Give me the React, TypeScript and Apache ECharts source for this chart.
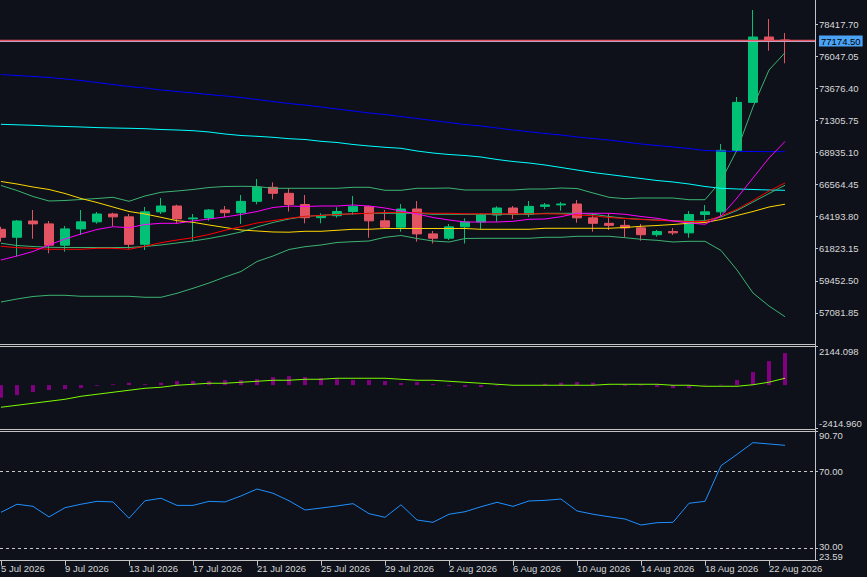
import React, { useEffect, useRef } from 'react';
import * as echarts from 'echarts';

const dates = [
  '5 Jul 2026', '6 Jul 2026', '7 Jul 2026', '8 Jul 2026', '9 Jul 2026', '10 Jul 2026', '11 Jul 2026', '12 Jul 2026', '13 Jul 2026', '14 Jul 2026',
  '15 Jul 2026', '16 Jul 2026', '17 Jul 2026', '18 Jul 2026', '19 Jul 2026', '20 Jul 2026', '21 Jul 2026', '22 Jul 2026', '23 Jul 2026', '24 Jul 2026',
  '25 Jul 2026', '26 Jul 2026', '27 Jul 2026', '28 Jul 2026', '29 Jul 2026', '30 Jul 2026', '31 Jul 2026', '1 Aug 2026', '2 Aug 2026', '3 Aug 2026',
  '4 Aug 2026', '5 Aug 2026', '6 Aug 2026', '7 Aug 2026', '8 Aug 2026', '9 Aug 2026', '10 Aug 2026', '11 Aug 2026', '12 Aug 2026', '13 Aug 2026',
  '14 Aug 2026', '15 Aug 2026', '16 Aug 2026', '17 Aug 2026', '18 Aug 2026', '19 Aug 2026', '20 Aug 2026', '21 Aug 2026', '22 Aug 2026', '23 Aug 2026',
];

const opens = [
  63260, 62670, 63873, 63660, 62085, 63290, 63810, 64391, 64180, 62150,
  64550, 64982, 64030, 64100, 64687, 64487, 65325, 66365, 65920, 65090,
  64117, 64265, 64575, 64935, 63885, 63415, 64760, 62920, 62600, 63440,
  63800, 64315, 64834, 64380, 64955, 65065, 65130, 64105, 63700, 63550,
  63365, 62860, 63095, 62995, 64355, 64550, 69095, 72645, 77478, 77260,
];
const closes = [
  62670, 63873, 63660, 62085, 63290, 63810, 64391, 64180, 62150, 64550,
  64982, 64030, 64100, 64687, 64487, 65325, 66365, 65920, 65090, 64117,
  64265, 64575, 64935, 63885, 63415, 64760, 62920, 62600, 63440, 63800,
  64315, 64834, 64380, 64955, 65065, 65130, 64105, 63700, 63550, 63365,
  62860, 63095, 62995, 64355, 64550, 69095, 72645, 77478, 77260, 77174.5,
];
const highs = [
  63452, 63947, 64687, 63873, 63504, 64687, 64539, 64487, 64391, 64908,
  65574, 65078, 64391, 64760, 64982, 65796, 66979, 66735, 66291, 65796,
  64443, 64886, 65722, 65000, 64687, 65130, 65352, 63134, 63651, 64073,
  64428, 64960, 64982, 65352, 65204, 65278, 65426, 64443, 64391, 63947,
  63651, 63208, 63356, 64613, 65056, 69567, 73042, 79475, 78809, 77774,
];
const lows = [
  62343, 61260, 62565, 61485, 61603, 62838, 63674, 63504, 61825, 61729,
  64391, 63703, 62417, 63896, 64162, 63651, 65108, 65478, 64576, 63703,
  63703, 64117, 64339, 62638, 63274, 63082, 62343, 62210, 62468, 62210,
  63274, 63822, 64021, 64162, 64761, 64635, 63747, 63082, 63208, 62690,
  62417, 62712, 62838, 62638, 63947, 64243, 69050, 72598, 76465, 75534,
];

const maBlue = [
  74705, 74631, 74558, 74484, 74373, 74262, 74114, 73966, 73818, 73707,
  73559, 73449, 73338, 73227, 73116, 73005, 72857, 72709, 72561, 72450,
  72302, 72155, 72007, 71859, 71748, 71600, 71452, 71304, 71156, 71008,
  70898, 70750, 70602, 70476, 70343, 70232, 70084, 69973, 69862, 69714,
  69567, 69456, 69345, 69234, 69086, 69040, 69020, 69010, 69000, 69000,
];
const maCyan = [
  71023, 70986, 70949, 70898, 70861, 70824, 70779, 70750, 70728, 70698,
  70639, 70602, 70550, 70454, 70306, 70195, 70136, 70062, 69959, 69900,
  69766, 69678, 69530, 69419, 69323, 69249, 69049, 68901, 68790, 68716,
  68605, 68421, 68273, 68162, 68014, 67829, 67644, 67459, 67311, 67164,
  67016, 66868, 66757, 66609, 66424, 66291, 66240, 66203, 66165, 66143,
];
const bbUpper = [
  66498, 66129, 65685, 65352, 65389, 65463, 65537, 65626, 65330, 65722,
  65996, 66092, 66203, 66351, 66424, 66439, 66424, 66291, 66291, 66291,
  66291, 66291, 66365, 66365, 66143, 66143, 66291, 66291, 66313, 66165,
  66165, 66165, 66165, 66239, 66239, 66313, 66276, 65944, 65626, 65522,
  65574, 65574, 65574, 65448, 65448, 66831, 69123, 72302, 75038, 76317,
];
const bbMiddle = [
  62224, 62061, 61988, 61929, 61914, 61914, 61914, 61914, 61914, 61990,
  62099, 62247, 62394, 62579, 62801, 63060, 63430, 63762, 64021, 64206,
  64295, 64354, 64406, 64443, 64443, 64443, 64443, 64369, 64369, 64369,
  64369, 64369, 64369, 64369, 64443, 64443, 64443, 64369, 64206, 64073,
  63999, 63947, 63896, 63851, 63896, 64169, 64650, 65278, 65907, 66513,
];
const bbLower = [
  57884, 58106, 58291, 58380, 58380, 58306, 58306, 58306, 58306, 58232,
  58232, 58528, 58897, 59289, 59733, 60140, 60879, 61285, 61766, 61973,
  62099, 62284, 62343, 62394, 62668, 62801, 62579, 62394, 62320, 62579,
  62594, 62594, 62594, 62594, 62668, 62668, 62742, 62742, 62742, 62638,
  62520, 62446, 62320, 62372, 62372, 61692, 60250, 58549, 57588, 56797,
];
const maRed = [
  62003, 61899, 61855, 61781, 61781, 61781, 61855, 61855, 61781, 62003,
  62269, 62468, 62638, 62875, 63186, 63452, 63725, 63896, 64073, 64221,
  64280, 64354, 64406, 64443, 64502, 64517, 64480, 64443, 64443, 64406,
  64406, 64406, 64406, 64406, 64406, 64391, 64317, 64258, 64132, 64058,
  63984, 63925, 63874, 63836, 63836, 64243, 64738, 65389, 66092, 66683,
];
const maMagenta = [
  60990, 61285, 61618, 62099, 62542, 62912, 63245, 63452, 63378, 63614,
  63703, 63703, 63873, 64021, 64169, 64354, 64576, 64872, 64982, 64945,
  64982, 64982, 65056, 64982, 64834, 64613, 64391, 64132, 63947, 63799,
  63799, 63799, 63851, 63999, 64021, 64191, 64443, 64443, 64443, 64369,
  64206, 64073, 63873, 63725, 63629, 64243, 65574, 67053, 68531, 69752,
];
const maYellow = [
  66794, 66609, 66387, 66203, 65906, 65537, 65241, 64908, 64576, 64391,
  64147, 63896, 63777, 63578, 63393, 63208, 63134, 63060, 63045, 63112,
  63112, 63186, 63260, 63260, 63319, 63319, 63319, 63319, 63319, 63319,
  63260, 63260, 63260, 63260, 63334, 63334, 63334, 63334, 63334, 63393,
  63482, 63541, 63615, 63703, 63762, 63984, 64280, 64576, 64908, 65115,
];

const macdHist = [
  -705, -556, -389, -278, -222, -167, -45, 45, 130, 50,
  130, 222, 222, 222, 278, 278, 333, 445, 500, 445,
  389, 333, 278, 278, 222, 111, 167, 56, -56, -111,
  -111, -37, -10, 5, 74, 130, 167, 130, 10, -56,
  -37, -111, -167, -167, 25, 30, 278, 723, 1334, 1780,
];
const macdSignal = [
  -1234, -1123, -1012, -901, -790, -623, -512, -400, -289, -178,
  -122, -11, 44, 100, 100, 156, 211, 267, 267, 322,
  322, 378, 378, 378, 378, 322, 267, 267, 211, 156,
  100, 44, -11, -11, -11, -11, -11, -11, 44, 44,
  44, 44, -11, -11, -67, -67, -67, 17, 160, 380,
];
const rsiValues = [
  48.7, 52.9, 51.8, 46.3, 51.1, 52.9, 54.4, 54.1, 45.6, 54.7,
  56.0, 52.3, 52.3, 54.4, 54.1, 57.2, 60.8, 58.6, 54.7, 49.9,
  50.9, 52.0, 53.2, 48.0, 46.1, 52.6, 44.7, 43.5, 47.7, 49.0,
  51.6, 53.9, 51.8, 54.6, 54.9, 55.6, 49.4, 47.7, 46.4, 45.2,
  42.1, 43.3, 43.5, 53.4, 54.4, 72.9, 78.8, 84.9, 84.2, 83.5,
];

const xTickLabels = [
  '5 Jul 2026', '9 Jul 2026', '13 Jul 2026', '17 Jul 2026', '21 Jul 2026', '25 Jul 2026', '29 Jul 2026',
  '2 Aug 2026', '6 Aug 2026', '10 Aug 2026', '14 Aug 2026', '18 Aug 2026', '22 Aug 2026',
];
const priceTicks = [57081.85, 59452.5, 61823.15, 64193.8, 66564.45, 68935.1, 71305.75, 73676.4, 76047.05, 78417.7];
const priceRange = [54778, 80214.5];
const lastPrice = 77174.5;
const askPrice = 77245;
const macdTicks = [-2414.96, 2144.098];
const rsiTicks = [23.59, 30.0, 70.0, 90.7];
const rsiAxisLabels = [23.59, 70.0, 90.7];
const rsiUpperLevel = 70;
const rsiLowerLevel = 30;

const FONT = 'Liberation Sans, Arial, sans-serif';
const TEXT = '#d8d8d8';
const GRAY = '#c4c4c4';
const GREEN = '#00c176';
const RED = '#e35462';

export default function App() {
  const ref = useRef<HTMLDivElement>(null);

  useEffect(() => {
    document.body.style.margin = '0';
    const chart = echarts.init(ref.current as HTMLDivElement, undefined, { renderer: 'svg' });

    const candleData = dates.map((_, i) => [i, opens[i], closes[i], lows[i], highs[i]]);
    const pair = (arr: number[]) => arr.map((v, i) => [i, v]);
    const tickIdx = xTickLabels.map((l) => dates.indexOf(l));

    const labelFont = { fontFamily: FONT, fontSize: 9.5, color: TEXT };
    const xBase = { type: 'value', min: -0.0625, max: 50.875, splitLine: { show: false } };
    const hiddenX = (g: number) => ({
      ...xBase,
      gridIndex: g,
      axisLine: { show: false, onZero: false },
      axisTick: { show: false },
      axisLabel: { show: false },
    });
    const yLabelCommon = {
      margin: 4,
      hideOverlap: false,
      showMinLabel: true,
      showMaxLabel: true,
      ...labelFont,
    };
    const yBase = (g: number, min: number, max: number) => ({
      type: 'value',
      gridIndex: g,
      position: 'right',
      min,
      max,
      splitLine: { show: false },
      axisLine: { show: false, onZero: false },
    });

    const mainLine = (name: string, data: number[], color: string) => ({
      name,
      type: 'line',
      xAxisIndex: 0,
      yAxisIndex: 0,
      data: pair(data),
      symbol: 'none',
      silent: true,
      lineStyle: { color, width: 1 },
      itemStyle: { color },
    });

    const option: any = {
      animation: false,
      backgroundColor: '#0e111a',
      grid: [
        { left: 0, top: 0, width: 815, height: 344, outerBoundsMode: 'none' },
        { left: 0, top: 346.5, width: 815, height: 82, outerBoundsMode: 'none' },
        { left: 0, top: 431.45, width: 815, height: 129.2, outerBoundsMode: 'none' },
      ],
      xAxis: [
        hiddenX(0),
        hiddenX(1),
        {
          ...xBase,
          gridIndex: 2,
          axisLine: { show: true, onZero: false, lineStyle: { color: GRAY, width: 1 } },
          axisTick: { show: true, customValues: tickIdx, length: 5, lineStyle: { color: GRAY } },
          axisLabel: {
            show: true,
            customValues: tickIdx,
            formatter: (v: number) => dates[Math.round(v)] || '',
            align: 'left',
            margin: 3,
            hideOverlap: false,
            ...labelFont,
          },
        },
      ],
      yAxis: [
        {
          ...yBase(0, priceRange[0], priceRange[1]),
          axisTick: { show: true, customValues: priceTicks, length: 3, lineStyle: { color: GRAY } },
          axisLabel: {
            ...yLabelCommon,
            customValues: [...priceTicks, lastPrice],
            formatter: (v: number) =>
              Math.abs(v - lastPrice) < 0.01 ? `{tag|${v.toFixed(2)}}` : v.toFixed(2),
            rich: {
              tag: {
                backgroundColor: '#4aa3f5',
                color: '#000000',
                fontFamily: FONT,
                fontSize: 9.5,
                padding: [1, 2, 0, 2],
              },
            },
          },
        },
        {
          ...yBase(1, macdTicks[0], macdTicks[1]),
          axisTick: { show: true, customValues: macdTicks, length: 3, lineStyle: { color: GRAY } },
          axisLabel: {
            ...yLabelCommon,
            customValues: macdTicks,
            verticalAlignMinLabel: 'bottom',
            verticalAlignMaxLabel: 'top',
            formatter: (v: number) => v.toFixed(3),
          },
        },
        {
          ...yBase(2, rsiTicks[0], rsiTicks[rsiTicks.length - 1]),
          axisTick: { show: true, customValues: rsiTicks, length: 3, lineStyle: { color: GRAY } },
          axisLabel: {
            ...yLabelCommon,
            lineHeight: 8,
            customValues: rsiAxisLabels,
            verticalAlignMinLabel: 'bottom',
            verticalAlignMaxLabel: 'top',
            formatter: (v: number) => v.toFixed(2),
          },
        },
      ],
      graphic: [
        { type: 'line', silent: true, shape: { x1: 0, y1: 344.5, x2: 815.5, y2: 344.5 }, style: { stroke: GRAY, lineWidth: 1 } },
        { type: 'line', silent: true, shape: { x1: 0, y1: 346.5, x2: 815.5, y2: 346.5 }, style: { stroke: GRAY, lineWidth: 1 } },
        { type: 'line', silent: true, shape: { x1: 0, y1: 429.5, x2: 815.5, y2: 429.5 }, style: { stroke: GRAY, lineWidth: 1 } },
        { type: 'line', silent: true, shape: { x1: 0, y1: 431.5, x2: 815.5, y2: 431.5 }, style: { stroke: GRAY, lineWidth: 1 } },
        { type: 'line', silent: true, shape: { x1: 815.5, y1: 0, x2: 815.5, y2: 561 }, style: { stroke: GRAY, lineWidth: 1 } },
      ],
      series: [
        {
          name: 'Price',
          type: 'candlestick',
          xAxisIndex: 0,
          yAxisIndex: 0,
          data: candleData,
          barWidth: 10,
          silent: true,
          itemStyle: {
            color: GREEN,
            color0: RED,
            borderColor: GREEN,
            borderColor0: RED,
            borderWidth: 1,
          },
          markLine: {
            silent: true,
            symbol: 'none',
            animation: false,
            label: { show: false },
            data: [
              { yAxis: lastPrice, lineStyle: { color: '#a8c0e0', width: 1, type: 'solid' } },
              { yAxis: askPrice, lineStyle: { color: '#e8505f', width: 1.3, type: 'solid' } },
            ],
          },
        },
        mainLine('MA Blue', maBlue, '#0000ff'),
        mainLine('MA Cyan', maCyan, '#00ffff'),
        mainLine('BB Lower', bbLower, '#3cb371'),
        mainLine('BB Upper', bbUpper, '#3cb371'),
        mainLine('BB Middle', bbMiddle, '#3cb371'),
        mainLine('MA Yellow', maYellow, '#ffd700'),
        mainLine('MA Red', maRed, '#ff0000'),
        mainLine('MA Magenta', maMagenta, '#ff00ff'),
        {
          name: 'MACD',
          type: 'bar',
          xAxisIndex: 1,
          yAxisIndex: 1,
          data: pair(macdHist),
          barWidth: 4,
          silent: true,
          itemStyle: { color: '#800080' },
        },
        {
          name: 'Signal',
          type: 'line',
          xAxisIndex: 1,
          yAxisIndex: 1,
          data: pair(macdSignal),
          symbol: 'none',
          silent: true,
          lineStyle: { color: '#7cfc00', width: 1 },
          itemStyle: { color: '#7cfc00' },
        },
        {
          name: 'RSI',
          type: 'line',
          xAxisIndex: 2,
          yAxisIndex: 2,
          data: pair(rsiValues),
          symbol: 'none',
          silent: true,
          lineStyle: { color: '#1e90ff', width: 1 },
          itemStyle: { color: '#1e90ff' },
          markLine: {
            silent: true,
            symbol: 'none',
            animation: false,
            label: { show: false },
            lineStyle: { color: '#c8c8c8', width: 1, type: [3, 3] },
            data: [
              { yAxis: rsiUpperLevel },
              {
                yAxis: rsiLowerLevel,
                label: {
                  show: true,
                  position: 'end',
                  distance: 4,
                  offset: [0, -2],
                  formatter: (p: any) => Number(p.value).toFixed(2),
                  ...labelFont,
                },
              },
            ],
          },
        },
      ],
    };

    chart.setOption(option);
    return () => chart.dispose();
  }, []);

  return (
    <div
      ref={ref}
      style={{ position: 'fixed', left: 0, top: 0, width: 867, height: 577, background: '#0e111a' }}
    />
  );
}
